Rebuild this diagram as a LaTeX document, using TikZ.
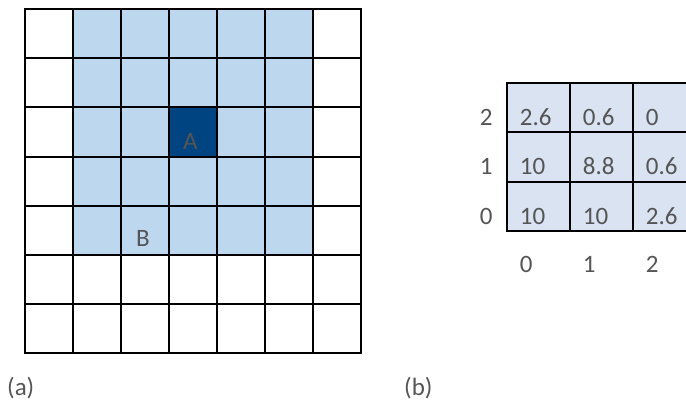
\documentclass[tikz,border=0pt]{standalone}
\usepackage{fontspec}
\setmainfont{Carlito}

\definecolor{cellblue}{RGB}{189,215,238}
\definecolor{cellpale}{RGB}{218,227,242}
\definecolor{celldark}{RGB}{0,68,129}
\definecolor{txtgray}{RGB}{85,85,85}

\tikzset{
  lbl/.style={font=\fontsize{25}{30}\selectfont, text=txtgray, inner sep=0pt, anchor=base west},
  gridline/.style={line width=2pt, black, line cap=rect}
}

\begin{document}
\begin{tikzpicture}[x=1pt, y=-1pt]

\useasboundingbox (0,0) rectangle (686,403);

\def\cw{48}
\def\ch{49.2}
\def\xa{25}
\def\ya{9}
\def\xb{506.7}
\def\yb{83.3}
\def\bw{63}

% ── (a) neighbourhood grid ──
\fill[cellblue] (\xa+\cw, \ya) rectangle (\xa+6*\cw, \ya+5*\ch);
\fill[celldark] (\xa+3*\cw, \ya+2*\ch) rectangle (\xa+4*\cw, \ya+3*\ch);

\foreach \i in {0,...,7} {
  \draw[gridline] (\xa+\i*\cw, \ya) -- (\xa+\i*\cw, \ya+7*\ch);
  \draw[gridline] (\xa, \ya+\i*\ch) -- (\xa+7*\cw, \ya+\i*\ch);
}

\node[lbl] (ptA) at (\xa+3*\cw+14, \ya+2*\ch+42.3) {A};
\node[lbl] (ptB) at (\xa+2*\cw+15, \ya+4*\ch+41) {B};

% ── (b) value table ──
\fill[cellpale] (\xb, \yb) rectangle (\xb+3*\bw, \yb+3*\ch);

\foreach \i in {0,...,3} {
  \draw[gridline] (\xb+\i*\bw, \yb) -- (\xb+\i*\bw, \yb+3*\ch);
  \draw[gridline] (\xb, \yb+\i*\ch) -- (\xb+3*\bw, \yb+\i*\ch);
}

% cell values (row counted from top)
\foreach \r/\c/\v in {0/0/2.6, 0/1/0.6, 0/2/0, 1/0/10, 1/1/8.8, 1/2/0.6, 2/0/10, 2/1/10, 2/2/2.6} {
  \node[lbl] (val\r\c) at (\xb+\c*\bw+13, \yb+\r*\ch+42.4) {\v};
}

% row and column indices
\foreach \r/\t in {0/2, 1/1, 2/0} {
  \node[lbl, anchor=base east] (row\t) at (\xb-14, \yb+\r*\ch+42.4) {\t};
}
\foreach \c in {0,1,2} {
  \node[lbl] (col\c) at (\xb+\c*\bw+13, 273) {\c};
}

% ── Captions ──
\node[lbl] (capA) at (7, 396) {(a)};
\node[lbl] (capB) at (404, 396) {(b)};

\end{tikzpicture}
\end{document}
